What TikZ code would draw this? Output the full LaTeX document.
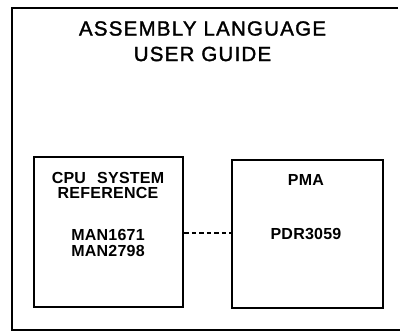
\documentclass[tikz,border=0pt]{standalone}
\usepackage{fontspec}
\setmainfont{Liberation Sans}
\newfontfamily\titlefont[LetterSpace=6,FakeBold=1.6]{Liberation Sans}
\newfontfamily\boxfont[LetterSpace=1.5]{Liberation Sans Bold}
\begin{document}
\begin{tikzpicture}[x=1pt,y=-1pt,
  frame/.style={line width=2.2pt},
  docbox/.style={draw,line width=2.8pt,inner sep=0pt},
  ttl/.style={font=\titlefont\fontsize{20.5}{20.5}\selectfont,inner sep=0pt},
  lbl/.style={font=\boxfont\fontsize{16}{16}\selectfont,inner sep=0pt},
  link/.style={line width=1.5pt,dash pattern=on 4.5pt off 3pt}]
\useasboundingbox (0,0) rectangle (400,331);
% outer frame (open on the right)
\coordinate (tr) at (398,8);
\coordinate (tl) at (12,8);
\coordinate (bl) at (12,330);
\coordinate (br) at (400,330);
\draw[frame] (tr) -- (tl) -- (bl) -- (br);
% title
\node[ttl] (t1) at (202.5,28.5) {ASSEMBLY LANGUAGE};
\node[ttl] (t2) at (202.5,54) {USER GUIDE};
% boxes
\node[docbox,minimum width=149pt,minimum height=150pt] (cpu) at (108.5,232) {};
\node[docbox,minimum width=151pt,minimum height=148pt] (pma) at (307.5,234) {};
% box texts
\node[lbl] (c1) at (108,178) {CPU\hspace{0.7em}SYSTEM};
\node[lbl] (c2) at (108,193) {REFERENCE};
\node[lbl] (c3) at (108,234.5) {MAN1671};
\node[lbl] (c4) at (108,251) {MAN2798};
\node[lbl] (p1) at (306,179.5) {PMA};
\node[lbl] (p2) at (306,234) {PDR3059};
% dashed connector
\draw[link] (cpu.east |- 0,233) -- (pma.west |- 0,233);
\end{tikzpicture}
\end{document}
